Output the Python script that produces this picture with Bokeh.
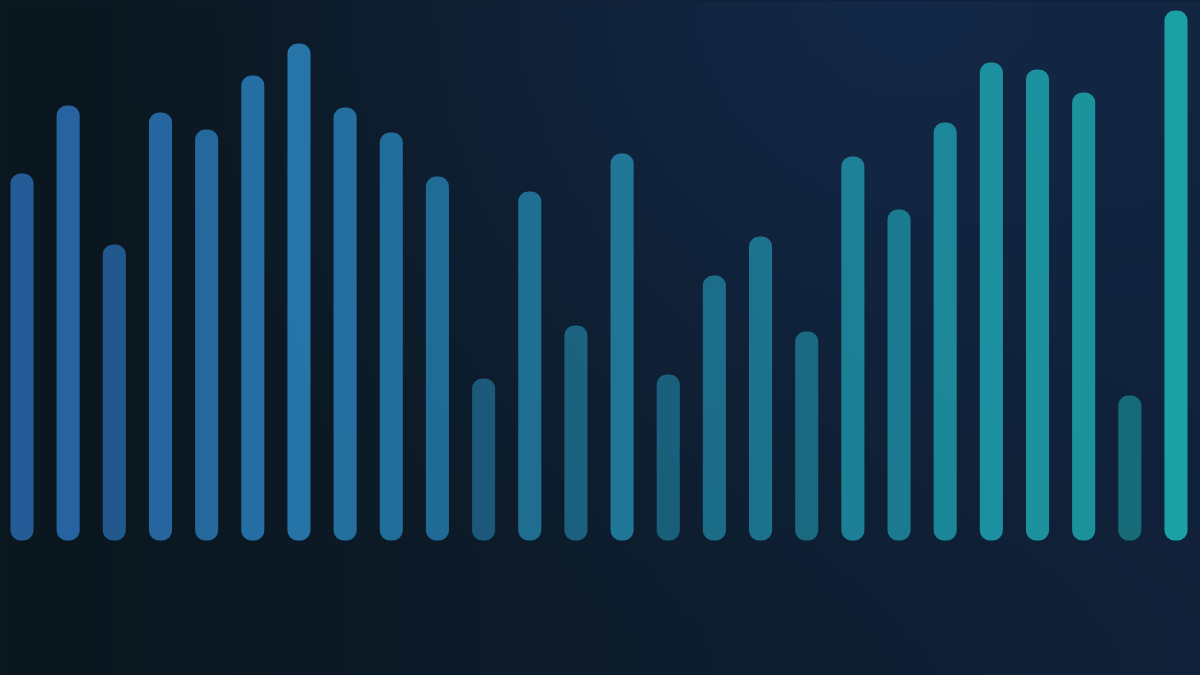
import numpy as np
from bokeh.plotting import figure
from bokeh.models import ColumnDataSource, Range1d, GlobalInlineStyleSheet
from bokeh.embed import file_html
from bokeh.resources import INLINE

# ---- data ----
categories = [f"B{i+1}" for i in range(26)]
values = [367, 435, 296, 428, 411, 465, 497, 433, 408, 364, 162, 349, 215,
          387, 166, 265, 304, 209, 384, 331, 418, 478, 471, 448, 145, 530]

# ---- styling ----
W, H = 1200, 675
color_start = np.array([0x2b, 0x6a, 0xb0])
color_end = np.array([0x1b, 0xa0, 0xa4])

n = len(values)
xs = list(range(n))
vmax = max(values)
colors = []
alphas = []
for i, v in enumerate(values):
    t = i / (n - 1)
    c = (color_start * (1 - t) + color_end * t).round().astype(int)
    colors.append("#%02x%02x%02x" % tuple(c))
    alphas.append(0.44 + 0.56 * v / vmax)

src = ColumnDataSource(dict(x=xs, top=values, color=colors, alpha=alphas, cat=categories))

x0, x1 = -0.4658, 25.531
y0, y1 = -135, 540

p = figure(width=W, height=H, output_backend="svg", toolbar_location=None,
           x_range=Range1d(x0, x1), y_range=Range1d(y0, y1),
           min_border=0, outline_line_color=None)
p.axis.visible = False
p.grid.visible = False
p.background_fill_color = "#0f1f33"
p.border_fill_color = "#0f1f33"

# background gradient (decorative)
gh, gw = 120, 200
yy, xx = np.mgrid[0:gh, 0:gw]
u = xx / (gw - 1)           # 0 left -> 1 right
vv = yy / (gh - 1)          # 0 bottom -> 1 top
left = np.array([0x0b, 0x17, 0x1e], float)
right = np.array([0x10, 0x21, 0x39], float)
glow = np.array([0x14, 0x29, 0x49], float)
base = left[None, None, :] * (1 - u[..., None]) + right[None, None, :] * u[..., None]
d = np.sqrt(((u - 0.75) / 0.65) ** 2 + ((vv - 1.0) / 1.0) ** 2)
g = np.clip(1 - d, 0, 1) ** 1.3
rgb = base * (1 - g[..., None]) + glow[None, None, :] * g[..., None]
img = np.zeros((gh, gw), dtype=np.uint32)
view = img.view(dtype=np.uint8).reshape((gh, gw, 4))
view[..., 0] = rgb[..., 0].astype(np.uint8)
view[..., 1] = rgb[..., 1].astype(np.uint8)
view[..., 2] = rgb[..., 2].astype(np.uint8)
view[..., 3] = 255
pad_x, pad_y = 0.2, 10
p.image_rgba(image=[img], x=x0 - pad_x, y=y0 - pad_y,
             dw=(x1 - x0) + 2 * pad_x, dh=(y1 - y0) + 2 * pad_y)

p.vbar(x="x", top="top", bottom=0, width=0.5, source=src,
       fill_color="color", fill_alpha="alpha", line_color=None,
       border_radius=10)

p.stylesheets = [GlobalInlineStyleSheet(css="html, body { background: #0d1b28; overflow: hidden; }")]

open("out.html", "w").write(file_html(p, INLINE))
